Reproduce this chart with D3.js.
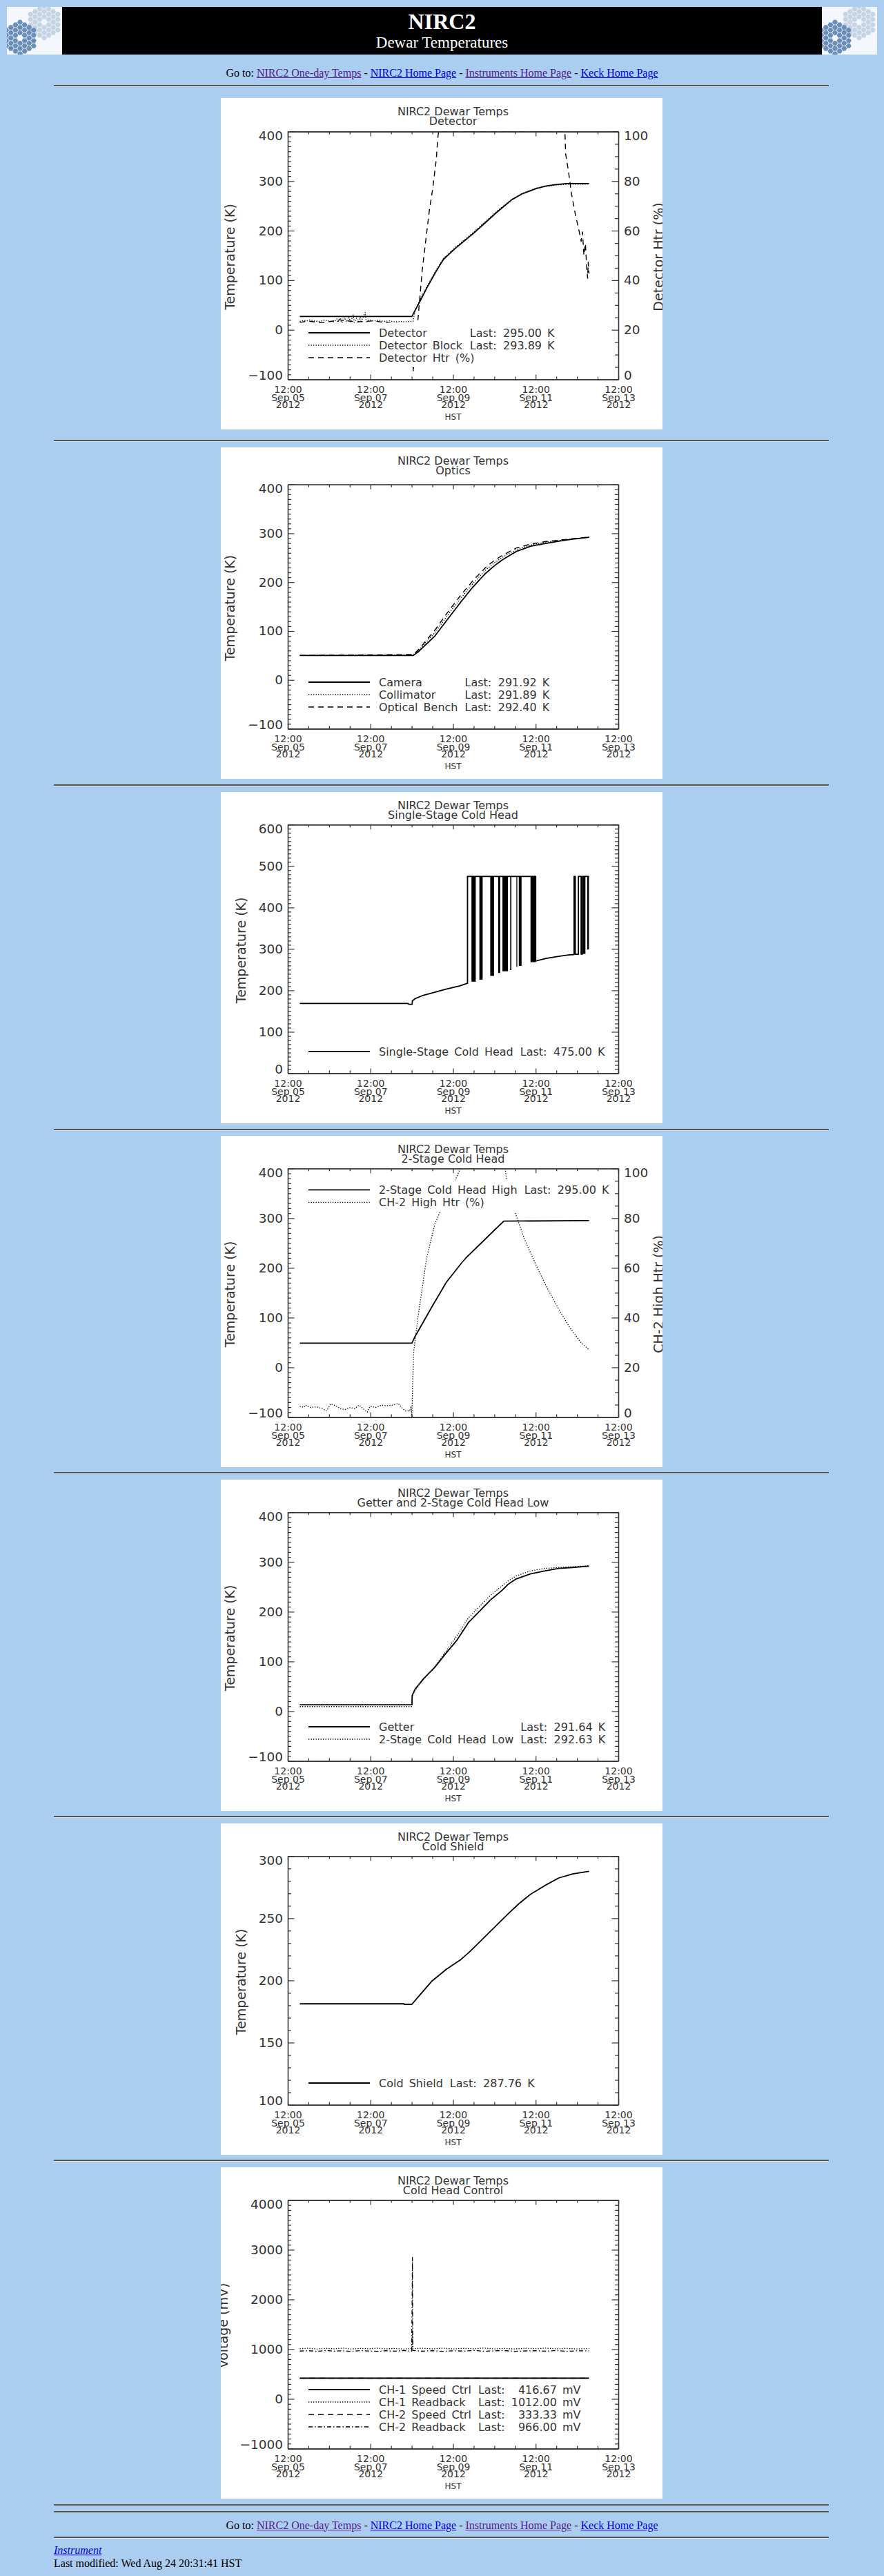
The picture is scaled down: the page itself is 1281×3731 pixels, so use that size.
<!DOCTYPE html>
<html>
<head>
<meta charset="utf-8">
<title>NIRC2 Dewar Temperatures</title>
<script src="https://cdn.jsdelivr.net/npm/d3@7/dist/d3.min.js"></script>
<style>
  html, body { margin: 0; padding: 0; background: #abcdef; }
  #page { position: relative; width: 1281px; height: 3731px; overflow: hidden;
          font-family: "Liberation Serif", "Times New Roman", serif; color: #000; }
  #page > * { position: absolute; }
  .hr { left: 78px; width: 1123px; height: 0; border-top: 2px solid #555; border-bottom: 1px solid #dde6ef; }
  .line { left: 0; width: 1281px; text-align: center; font-size: 16px; line-height: 16px; white-space: nowrap; }
  .band { left: 90px; top: 10px; width: 1101px; height: 69px; background: #000; }
  .head { left: 90px; width: 1101px; text-align: center; color: #fff; white-space: nowrap; }
  a { color: #0000ee; }
  a.seen { color: #551a8b; }
  svg.plot { background: #fff; overflow: hidden; }
</style>
</head>
<body>
<div id="page"></div>
<script>
// time axis: 8 days of HST, 12:00 Sep 05 -> 12:00 Sep 13 2012
var axisStart = new Date(2012, 8, 5, 12, 0);
var axisEnd = new Date(2012, 8, 13, 12, 0);
var xMajorTicks = ["2012-09-05 12:00", "2012-09-07 12:00", "2012-09-09 12:00", "2012-09-11 12:00", "2012-09-13 12:00"];

var chartSubtitles = ["Detector", "Optics", "Single-Stage Cold Head", "2-Stage Cold Head",
  "Getter and 2-Stage Cold Head Low", "Cold Shield", "Cold Head Control"];

// all series are [hours after 12:00 Sep 05, value]
// Detector
var detectorTemp = [[7,27],[72.1,27],[77.6,63],[81,86],[85.5,114],[90.4,142],[96.9,163],[108.3,196],
  [121.4,237],[130,262],[136,274],[144.3,285],[150,290],[155.7,293],[162,295],[175,295]];
var detectorBlock = [[7,17],[9,19],[11,18],[13,20],[15,18],[18,17],[21,19],[24,18],[27,16],[28.5,22],
  [29,15],[30.5,24],[31.5,14],[33,25],[34,16],[35.5,27],[36.5,15],[38,31],[38.6,15],[40,24],[41,14],
  [42,28],[42.6,16],[45,35],[45.5,16],[47,20],[50,18],[53,19],[56,17],[59,18],[62,16],[65,17],[68,16],
  [71,17],[72.8,17],[74,40],[77.6,66],[85.5,117],[90.4,144],[96.9,165],[108.3,198],[121.4,239],
  [130,263],[136,275],[144.3,286],[155.7,292],[162,293.5],[175,293.9]];
var detectorHtr = [[7,23],[12,23.5],[20,22.8],[30,24],[40,23.2],[50,23.6],[60,22.6],[72,22.4],[72.9,3],
  [75.6,24],[78.1,44],[82.2,68],[84.2,77],[86.3,89],[87.1,97],[87.6,100],[161,100],[161.4,91],
  [163.1,83.7],[164.7,75.3],[167.2,66],[168.8,61.3],[170.4,55.7],[171.2,59.5],[172,50.1],[172.9,54.8],
  [173.7,44.5],[174.2,40.8],[174.5,47.3],[175,42.7]];
var detectorNames = ["Detector", "Detector Block", "Detector Htr (%)"];
var detectorLast = ["295.00 K", "293.89 K", null];

// Optics
var cameraTemp = [[7,50],[72.9,50],[76,58],[85.5,90],[92.8,124],[100.2,158],[107.5,190],[114.9,218],
  [119.8,233],[124.7,246],[132.8,263],[141,273.5],[149.2,279],[157.4,284],[165.5,288],[175,291.9]];
var collimatorTemp = [[7,50],[72.9,51],[76,60],[85.5,97],[92.8,132],[100.2,166],[107.5,197],[114.9,225],
  [119.8,239],[124.7,251],[132.8,267],[141,276],[149.2,281.5],[157.4,285.5],[165.5,288.5],[175,291.9]];
var benchTemp = [[7,50],[72.9,52],[76,62],[85.5,102],[92.8,138],[100.2,172],[107.5,203],[114.9,230],
  [119.8,244],[124.7,255],[132.8,270],[141,278],[149.2,283],[157.4,286],[165.5,289],[175,292.4]];
var opticsNames = ["Camera", "Collimator", "Optical Bench"];
var opticsLast = ["291.92 K", "291.89 K", "292.40 K"];

// Single-stage cold head; dense on/off bursts are [start, end, low value]
var singleStageTemp = [[7,168.6],[69.9,168.6],[70.2,166.5],[72.2,166.5],[72.4,175],[74,180],[78,187],
  [85,195],[92,203],[100,211],[104.4,217],[104.4,475],[144,475],[144,271],[150,277],[157.4,282],
  [163,285.5],[166.3,286.5],[166.3,475],[167,475],[167,287],[168.8,287],[168.8,475],[170.4,475],
  [170.4,287.5],[171.2,287.5],[171.2,475],[174.3,475],[174.3,300],[174.6,300],[174.6,475],[175,475]];
var singleStageBursts = [[106.7,109.2,221],[111.3,113.2,226],[117.6,119.8,235],[122.2,123.4,242],
  [124.7,127.9,246],[129.2,129.9,249],[132.8,133.3,257],[134.2,135.8,259],[141.0,144.0,268],
  [171.5,172.9,288]];
var singleStageNames = ["Single-Stage Cold Head"];
var singleStageLast = ["475.00 K"];

// 2-stage cold head high
var coldHeadHigh = [[7,48.6],[72.1,48.6],[74,62.5],[83.9,122.7],[92.1,171],[101.1,210.6],[103.5,220],
  [111.7,247.7],[119.9,275.5],[125.5,294],[175,295]];
var ch2HighHtr = [[7,4.4],[9.5,3.9],[10.3,4.8],[12.7,3.9],[16.8,4.1],[20.1,3.4],[22.5,2.5],[25,5.3],
  [28.3,4.4],[30.7,3.4],[33.2,3.0],[36.4,3.9],[38.9,3.4],[41.3,4.8],[43.8,3.4],[46.2,2.0],[47.9,4.4],
  [51.1,3.9],[54.4,4.8],[57.7,4.6],[60.9,4.8],[64.2,5.5],[66.7,3.4],[68.3,2.5],[70.8,2.5],[71.6,4.4],
  [72.1,0],[72.5,12.7],[73.2,26.6],[75.7,40.6],[80.6,63.8],[85.5,77.7],[89.5,84.2],[94.4,91.2],
  [98.5,97.2],[100.2,100],[126.3,100],[127.1,95.4],[132,82.4],[137.7,71.2],[144.3,61],[150.8,51.7],
  [157.4,43.4],[163.9,35.9],[170.4,29.9],[175,27.1]];
var coldHeadNames = ["2-Stage Cold Head High", "CH-2 High Htr (%)"];
var coldHeadLast = ["295.00 K", null];

// getter and 2-stage cold head low
var getterTemp = [[7,13],[72.1,13],[72.3,32],[73.9,44],[78.8,65],[85.3,88],[91.8,116],[98.4,143.5],
  [104.9,178],[111.4,201],[118,224.5],[124.5,243],[127.8,254.6],[132.7,266],[140.9,276],[149.1,282],
  [157.3,287],[165.4,289],[175,291.6]];
var coldHeadLow = [[7,9.3],[72.1,9.3],[72.3,30],[73.9,42],[78.8,64],[85.3,89],[91.8,120],[98.4,152.8],
  [104.9,187.5],[111.4,210.6],[118,233.8],[124.5,252],[127.8,261.6],[132.7,272],[140.9,282],
  [149.1,287],[157.3,289],[165.4,290.5],[175,292.6]];
var getterNames = ["Getter", "2-Stage Cold Head Low"];
var getterLast = ["291.64 K", "292.63 K"];

// cold shield
var coldShield = [[7,181.2],[67.5,181.2],[67.6,180.8],[72.1,180.8],[75.7,186.7],[83.9,199.7],[92.1,209],
  [100.2,216.4],[105.1,222.4],[111.7,231.3],[119.8,242.4],[128,253.6],[134.5,262],[141.1,269.4],
  [149.2,276.2],[157.4,282.4],[165.5,285.7],[175,287.8]];
var coldShieldNames = ["Cold Shield"];
var coldShieldLast = ["287.76 K"];

// cold head control (mV)
var ch1SpeedCtrl = [[7,416.67],[175,416.67]];
var ch1Readback = [[7,1010],[12,1020],[17,1005],[22,1018],[27,1008],[32,1022],[37,1004],[42,1015],
  [47,1009],[52,1021],[57,1006],[62,1016],[67,1003],[72,1012],[72.4,1320],[72.7,1010],[78,1019],
  [84,1007],[90,1021],[96,1005],[102,1017],[108,1010],[114,1023],[120,1006],[126,1015],[132,1004],
  [138,1019],[144,1011],[150,1021],[156,1007],[162,1016],[168,1005],[175,1012]];
var ch2SpeedCtrl = [[7,416.67],[175,416.67]];
var ch2Readback = [[7,962],[12,970],[17,958],[22,972],[27,960],[32,968],[37,955],[42,971],[47,963],
  [52,957],[57,969],[62,961],[67,973],[72,959],[72.4,2850],[72.6,975],[78,960],[84,970],[90,956],
  [96,968],[102,962],[108,974],[114,958],[120,966],[126,971],[132,957],[138,965],[144,969],[150,960],
  [156,972],[162,958],[168,967],[175,966]];
var controlNames = ["CH-1 Speed Ctrl", "CH-1 Readback", "CH-2 Speed Ctrl", "CH-2 Readback"];
var controlLast = ["416.67 mV", "1012.00 mV", "333.33 mV", "966.00 mV"];

// ---------------------------------------------------------------
var plotFont = "'DejaVu Sans', 'Liberation Sans', sans-serif";
var ink = "#333";
var page = d3.select("#page");
var parseTick = d3.timeParse("%Y-%m-%d %H:%M");
var chartTops = [142, 648, 1147, 1645, 2143, 2641, 3139];
var plotTops = [48.5, 53.7, 47.3, 47.3, 47.3, 47.3, 47.5];
var hrTops = [124, 638, 1137, 1636, 2133, 2631, 3129, 3628, 3638, 3675];

var lineStyles = {
  solid: { dash: null, width: 1.8 },
  dot: { dash: "1.3,2.2", width: 1.3 },
  dash: { dash: "8,6", width: 1.4 },
  dashdot: { dash: "6,3,1.5,3", width: 1.3 }
};

function toDate(h) { return new Date(+axisStart + h * 3600e3); }

// header with two mirror logos
function drawLogo(left) {
  var svg = page.append("svg").attr("width", 80).attr("height", 69)
    .style("left", left + "px").style("top", "10px");
  svg.append("rect").attr("width", 80).attr("height", 69).attr("fill", "#f3f6fa");
  var size = 4.4;
  [{ cx: 54, cy: 22, fill: "#c5d4e5" }, { cx: 19, cy: 45, fill: "#6a8eb8" }].forEach(function(m) {
    for (var q = -3; q <= 3; q++) {
      for (var r = -3; r <= 3; r++) {
        var ring = Math.max(Math.abs(q), Math.abs(r), Math.abs(q + r));
        if (ring < 1 || ring > 3) continue;
        var hx = m.cx + 1.5 * size * q, hy = m.cy + Math.sqrt(3) * size * (r + q / 2);
        var pts = d3.range(6).map(function(k) {
          var a = Math.PI / 3 * k;
          return [hx + size * 0.9 * Math.cos(a), hy + size * 0.9 * Math.sin(a)];
        });
        svg.append("polygon").attr("points", pts.join(" ")).attr("fill", m.fill);
      }
    }
  });
}
drawLogo(10);
page.append("div").attr("class", "band");
drawLogo(1191);
page.append("div").attr("class", "head").style("top", "14.9px")
  .style("font-size", "32px").style("line-height", "32px").style("font-weight", "bold").text("NIRC2");
page.append("div").attr("class", "head").style("top", "50px")
  .style("font-size", "23px").style("line-height", "23px").text("Dewar Temperatures");

function navLine(top) {
  var d = page.append("div").attr("class", "line").style("top", top + "px");
  d.html('Go to: <a class="seen" href="#">NIRC2 One-day Temps</a> - <a href="#">NIRC2 Home Page</a> - ' +
    '<a class="seen" href="#">Instruments Home Page</a> - <a href="#">Keck Home Page</a>');
}
navLine(98.3);
hrTops.forEach(function(t) { page.append("div").attr("class", "hr").style("top", (t - 1) + "px"); });

function tickRange(domain, step) {
  return d3.range(domain[0], domain[1] + step / 2, step);
}

function styleAxis(g, size) {
  g.attr("font-family", plotFont).attr("font-size", size);
  g.select(".domain").attr("stroke", ink).attr("stroke-width", 1.3);
  g.selectAll(".tick line").attr("stroke", ink).attr("stroke-width", 1.2);
  g.selectAll(".tick text").attr("fill", ink);
}

function yAxes(svg, scale, cfg, side, showLabels, plotLeft, plotRight) {
  var major = tickRange(scale.domain(), cfg.major);
  var minor = tickRange(scale.domain(), cfg.minor).filter(function(v) {
    return Math.abs(v / cfg.major - Math.round(v / cfg.major)) > 1e-6;
  });
  var make = side === "left" ? d3.axisLeft : d3.axisRight;
  var pos = side === "left" ? plotLeft : plotRight;
  var gMin = svg.append("g").attr("transform", "translate(" + pos + ",0)")
    .call(make(scale).tickValues(minor).tickSize(-5).tickSizeOuter(0).tickFormat(""));
  styleAxis(gMin, 10);
  var gMaj = svg.append("g").attr("transform", "translate(" + pos + ",0)")
    .call(make(scale).tickValues(major).tickSize(-9.5).tickSizeOuter(0)
      .tickPadding(side === "left" ? 7 : 8).tickFormat(showLabels ? d3.format("d") : ""));
  styleAxis(gMaj, 18.5);
  var lo = scale.domain()[0], hi = scale.domain()[1];
  gMaj.selectAll(".tick text").attr("transform", function(d) {
    return d === hi ? "translate(0,6)" : d === lo ? "translate(0,-6)" : null;
  });
}

function drawLegend(svg, rows, firstY) {
  var g = svg.append("g").attr("font-family", plotFont).attr("font-size", 16)
    .style("word-spacing", "3px");
  var bg = g.append("rect").attr("fill", "#fff");
  var rowY = function(i) { return firstY + i * 18; };
  var textX = 229;
  g.selectAll("line.sample").data(rows).join("line")
    .attr("x1", 127).attr("x2", 216).attr("y1", function(d, i) { return rowY(i); })
    .attr("y2", function(d, i) { return rowY(i); })
    .attr("stroke", "#000").attr("stroke-width", function(d) { return lineStyles[d.style].width; })
    .attr("stroke-dasharray", function(d) { return lineStyles[d.style].dash; });
  var names = g.selectAll("text.name").data(rows).join("text").attr("class", "name")
    .attr("x", textX).attr("y", function(d, i) { return rowY(i) + 6; })
    .attr("fill", ink).text(function(d) { return d.name; });
  var nameW = 0, rightEnd = 0;
  names.each(function(d) {
    var w = this.getBBox().width;
    rightEnd = Math.max(rightEnd, textX + w);
    if (d.last) nameW = Math.max(nameW, w);
  });
  var withLast = rows.filter(function(d) { return d.last; });
  if (withLast.length) {
    var lastX = textX + nameW + 10;
    var lbl = g.selectAll("text.lbl").data(rows).join("text").attr("class", "lbl")
      .attr("x", lastX).attr("y", function(d, i) { return rowY(i) + 6; })
      .attr("fill", ink).text(function(d) { return d.last ? "Last:" : ""; });
    var lblW = 0;
    lbl.each(function() { lblW = Math.max(lblW, this.getBBox().width); });
    var vals = g.selectAll("text.val").data(rows).join("text").attr("class", "val")
      .attr("y", function(d, i) { return rowY(i) + 6; })
      .attr("fill", ink).text(function(d) { return d.last || ""; });
    var valW = 0;
    vals.each(function() { valW = Math.max(valW, this.getBBox().width); });
    var valRight = lastX + lblW + 9 + valW;
    vals.attr("x", valRight).attr("text-anchor", "end");
    rightEnd = Math.max(rightEnd, valRight);
  }
  bg.attr("x", 117).attr("y", firstY - 14)
    .attr("width", Math.min(rightEnd + 8, 575) - 117)
    .attr("height", (rows.length - 1) * 18 + 28);
}

function drawChart(idx, cfg) {
  var plotLeft = 97, plotRight = 576, plotBottom = 407.5, plotTop = plotTops[idx];
  var svg = page.append("svg").attr("class", "plot").attr("width", 640).attr("height", 480)
    .style("left", "320px").style("top", chartTops[idx] + "px");

  var x = d3.scaleTime().domain([axisStart, axisEnd]).range([plotLeft, plotRight]);
  var y = d3.scaleLinear().domain(cfg.yDomain).range([plotBottom, plotTop]);
  var y2 = cfg.right ? d3.scaleLinear().domain(cfg.right.domain).range([plotBottom, plotTop]) : null;

  // titles
  var titles = svg.append("g").attr("font-family", plotFont).attr("font-size", 16)
    .attr("fill", ink).attr("text-anchor", "middle");
  titles.append("text").attr("x", (plotLeft + plotRight) / 2).attr("y", 24.5).text("NIRC2 Dewar Temps");
  titles.append("text").attr("x", (plotLeft + plotRight) / 2).attr("y", 38.5).text(chartSubtitles[idx]);

  // data
  var clipId = "plotclip" + idx;
  svg.append("clipPath").attr("id", clipId).append("rect")
    .attr("x", plotLeft).attr("y", plotTop).attr("width", plotRight - plotLeft).attr("height", plotBottom - plotTop);
  var dataG = svg.append("g").attr("clip-path", "url(#" + clipId + ")");
  if (cfg.bursts) {
    dataG.selectAll("rect.burst").data(cfg.bursts).join("rect")
      .attr("x", function(d) { return x(toDate(d[0])); })
      .attr("width", function(d) { return x(toDate(d[1])) - x(toDate(d[0])); })
      .attr("y", y(cfg.burstHigh))
      .attr("height", function(d) { return y(d[2]) - y(cfg.burstHigh); })
      .attr("fill", "#000");
  }
  cfg.series.forEach(function(s) {
    var sc = s.axis === "right" ? y2 : y;
    var line = d3.line().x(function(d) { return x(toDate(d[0])); }).y(function(d) { return sc(d[1]); });
    dataG.append("path").datum(s.data).attr("d", line).attr("fill", "none")
      .attr("stroke", "#000").attr("stroke-width", lineStyles[s.style].width)
      .attr("stroke-dasharray", lineStyles[s.style].dash).attr("stroke-linejoin", "round");
  });

  // legend
  var rows = cfg.legend.names.map(function(n, i) {
    return { name: n, last: cfg.legend.last[i], style: cfg.legend.styles[i] };
  });
  var firstY = cfg.legend.top ? cfg.legend.top : 376 - (rows.length - 1) * 18;
  drawLegend(svg, rows, firstY);

  // x axes (bottom with labels, top mirrored)
  var majorDates = xMajorTicks.map(parseTick);
  var minorDates = d3.timeHour.every(12).range(axisStart, axisEnd).filter(function(d) {
    return !majorDates.some(function(m) { return +m === +d; });
  });
  [["bottom", plotBottom, d3.axisBottom], ["top", plotTop, d3.axisTop]].forEach(function(a) {
    var gMin = svg.append("g").attr("transform", "translate(0," + a[1] + ")")
      .call(a[2](x).tickValues(minorDates).tickSize(-4).tickSizeOuter(0).tickFormat(""));
    styleAxis(gMin, 10);
    var gMaj = svg.append("g").attr("transform", "translate(0," + a[1] + ")")
      .call(a[2](x).tickValues(majorDates).tickSize(-7).tickSizeOuter(0).tickFormat(""));
    styleAxis(gMaj, 14);
    if (a[0] === "bottom") {
      gMaj.selectAll(".tick text").remove();
      var t = gMaj.selectAll(".tick").append("text").attr("text-anchor", "middle").attr("fill", ink);
      [["%H:%M", 19.5], ["%b %d", 31], ["%Y", 41.5]].forEach(function(f) {
        t.append("tspan").attr("x", 0).attr("y", f[1]).text(function(d) { return d3.timeFormat(f[0])(d); });
      });
    }
  });
  svg.append("text").attr("x", (plotLeft + plotRight) / 2).attr("y", 465.5)
    .attr("text-anchor", "middle").attr("font-family", plotFont).attr("font-size", 12)
    .attr("fill", ink).text("HST");

  // y axes
  yAxes(svg, y, { major: cfg.yMajor, minor: cfg.yMinor }, "left", true, plotLeft, plotRight);
  if (cfg.right) {
    yAxes(svg, y2, { major: cfg.right.major, minor: cfg.right.minor }, "right", true, plotLeft, plotRight);
  } else {
    yAxes(svg, y, { major: cfg.yMajor, minor: cfg.yMinor }, "right", false, plotLeft, plotRight);
  }
  var midY = (plotTop + plotBottom) / 2 + 2;
  svg.append("text").attr("transform", "translate(" + cfg.yTitleX + "," + midY + ") rotate(-90)")
    .attr("text-anchor", "middle").attr("font-family", plotFont).attr("font-size", 19)
    .attr("fill", ink).text(cfg.yTitle);
  if (cfg.right) {
    svg.append("text").attr("transform", "translate(641," + midY + ") rotate(-90)")
      .attr("text-anchor", "middle").attr("font-family", plotFont).attr("font-size", 19)
      .attr("fill", ink).text(cfg.right.title);
  }
}

drawChart(0, {
  yDomain: [-100, 400], yMajor: 100, yMinor: 10, yTitle: "Temperature (K)", yTitleX: 20,
  right: { domain: [0, 100], major: 20, minor: 5, title: "Detector Htr (%)" },
  series: [{ data: detectorHtr, axis: "right", style: "dash" },
           { data: detectorBlock, style: "dot" },
           { data: detectorTemp, style: "solid" }],
  legend: { names: detectorNames, last: detectorLast, styles: ["solid", "dot", "dash"] }
});
drawChart(1, {
  yDomain: [-100, 400], yMajor: 100, yMinor: 10, yTitle: "Temperature (K)", yTitleX: 20,
  series: [{ data: benchTemp, style: "dash" }, { data: collimatorTemp, style: "dot" },
           { data: cameraTemp, style: "solid" }],
  legend: { names: opticsNames, last: opticsLast, styles: ["solid", "dot", "dash"] }
});
drawChart(2, {
  yDomain: [0, 600], yMajor: 100, yMinor: 10, yTitle: "Temperature (K)", yTitleX: 36,
  bursts: singleStageBursts, burstHigh: 475,
  series: [{ data: singleStageTemp, style: "solid" }],
  legend: { names: singleStageNames, last: singleStageLast, styles: ["solid"] }
});
drawChart(3, {
  yDomain: [-100, 400], yMajor: 100, yMinor: 10, yTitle: "Temperature (K)", yTitleX: 20,
  right: { domain: [0, 100], major: 20, minor: 5, title: "CH-2 High Htr (%)" },
  series: [{ data: ch2HighHtr, axis: "right", style: "dot" }, { data: coldHeadHigh, style: "solid" }],
  legend: { names: coldHeadNames, last: coldHeadLast, styles: ["solid", "dot"], top: 78.3 }
});
drawChart(4, {
  yDomain: [-100, 400], yMajor: 100, yMinor: 10, yTitle: "Temperature (K)", yTitleX: 20,
  series: [{ data: coldHeadLow, style: "dot" }, { data: getterTemp, style: "solid" }],
  legend: { names: getterNames, last: getterLast, styles: ["solid", "dot"] }
});
drawChart(5, {
  yDomain: [100, 300], yMajor: 50, yMinor: 10, yTitle: "Temperature (K)", yTitleX: 36,
  series: [{ data: coldShield, style: "solid" }],
  legend: { names: coldShieldNames, last: coldShieldLast, styles: ["solid"] }
});
drawChart(6, {
  yDomain: [-1000, 4000], yMajor: 1000, yMinor: 100, yTitle: "Voltage (mV)", yTitleX: 10,
  series: [{ data: ch2SpeedCtrl, style: "dash" }, { data: ch2Readback, style: "dashdot" },
           { data: ch1Readback, style: "dot" }, { data: ch1SpeedCtrl, style: "solid" }],
  legend: { names: controlNames, last: controlLast, styles: ["solid", "dot", "dash", "dashdot"] }
});

// footer
navLine(3649.6);
page.append("div").style("left", "78px").style("top", "3685.6px").style("font-size", "16px")
  .style("line-height", "16px").style("font-style", "italic").html('<a href="#">Instrument</a>');
page.append("div").style("left", "78px").style("top", "3704.9px").style("font-size", "16px")
  .style("line-height", "16px").style("white-space", "nowrap").text("Last modified: Wed Aug 24 20:31:41 HST");
</script>
</body>
</html>
